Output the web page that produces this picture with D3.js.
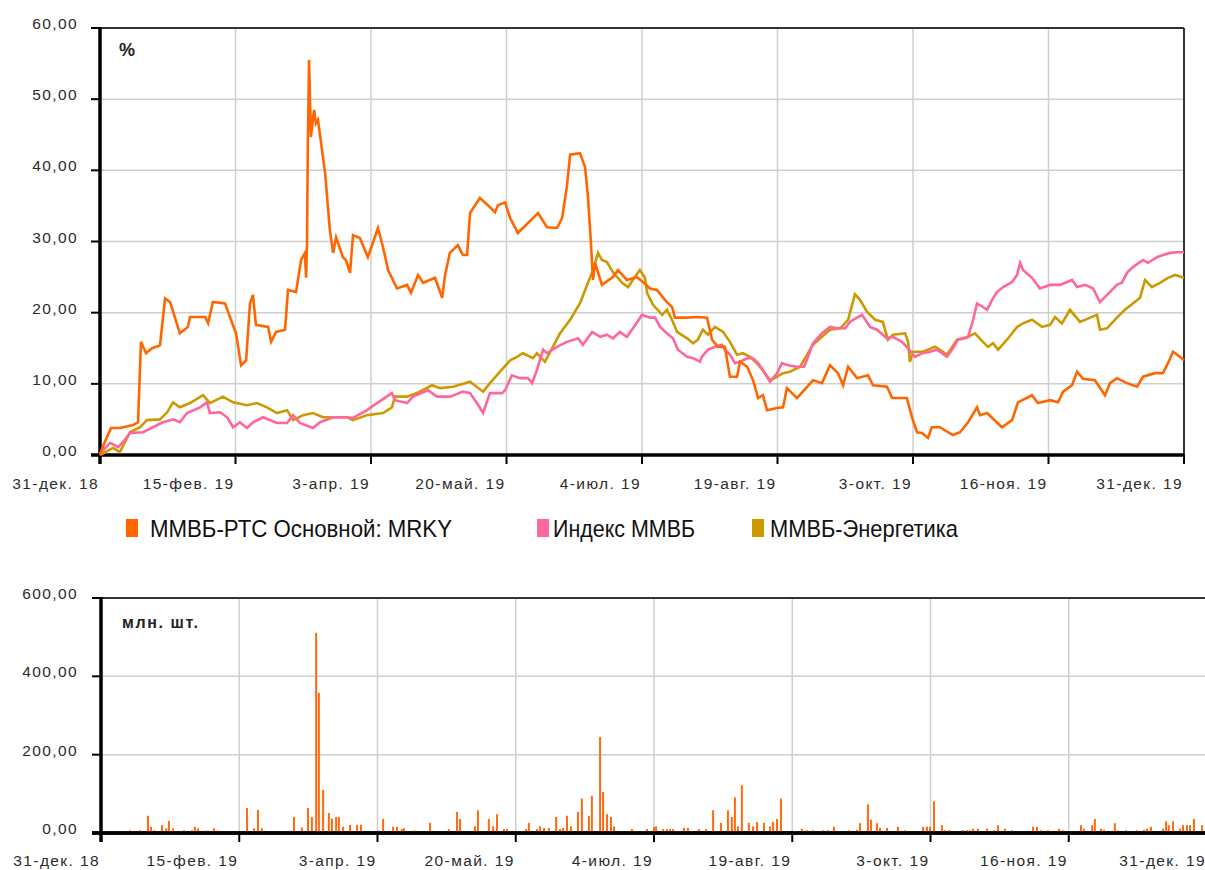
<!DOCTYPE html>
<html>
<head>
<meta charset="utf-8">
<script src="https://cdn.jsdelivr.net/npm/d3@7"></script>
<style>
  body { margin: 0; background: #fff; }
  svg { display: block; }
  text { font-family: "Liberation Sans", Arial, sans-serif; }
</style>
</head>
<body>
<svg id="chart" width="1205" height="870"></svg>
<script>
// Period: 31 Dec 2018 .. 31 Dec 2019, x values are days since 31 Dec 2018
const periodDays = 365;
const xTickLabels = ["31-дек. 18", "15-фев. 19", "3-апр. 19", "20-май. 19", "4-июл. 19",
                     "19-авг. 19", "3-окт. 19", "16-ноя. 19", "31-дек. 19"];
const priceTicks = [0, 10, 20, 30, 40, 50, 60];
const volumeTicks = [0, 200, 400, 600];

const seriesNames = ["ММВБ-РТС Основной: MRKY", "Индекс ММВБ", "ММВБ-Энергетика"];
const seriesColors = ["#ff6600", "#ff6699", "#cc9900"];

// Change since start of period, %
const mrkyDays = [0, 1.3, 3.7, 6.7, 11.1, 12.8, 13.8, 15.5, 17.5, 20.2, 21.9, 23.6, 26.9, 29.6, 30.3, 35.4, 36.4, 38.0,
  42.1, 44.1, 45.8, 47.5, 49.2, 50.5, 51.5, 52.5, 56.6, 57.6, 59.3, 62.3, 63.3, 66.0, 67.7, 69.0, 69.4, 69.7, 70.0,
  70.4, 71.0, 72.1, 72.7, 73.4, 75.8, 77.4, 78.5, 79.5, 81.8, 82.8, 84.2, 85.2, 87.5, 90.2, 93.6, 95.3, 97.0, 100.0,
  103.4, 104.7, 107.1, 108.8, 112.8, 115.2, 116.2, 117.8, 120.5, 122.2, 123.6, 124.6, 127.9, 130.6, 133.0, 134.0,
  136.4, 138.1, 140.7, 147.5, 150.5, 153.9, 155.6, 157.2, 158.3, 161.6, 163.3, 164.3, 165.3, 166.0, 166.7, 169.0,
  172.7, 174.4, 177.4, 180.8, 182.8, 185.2, 187.5, 190.2, 192.6, 193.6, 197.7, 201.3, 204.4, 206.1, 208.1, 210.4,
  212.1, 214.5, 215.5, 217.9, 219.9, 221.6, 223.2, 224.6, 228.0, 230.0, 231.3, 234.7, 237.1, 240.1, 243.1, 245.8,
  248.5, 250.2, 251.9, 254.9, 258.6, 260.3, 265.0, 266.7, 271.7, 273.4, 275.1, 276.8, 278.8, 280.1, 282.8, 287.2,
  289.6, 292.3, 295.3, 296.3, 298.7, 303.7, 307.1, 309.1, 313.8, 315.8, 319.9, 322.6, 324.3, 327.3, 329.0, 331.0,
  335.0, 338.4, 340.1, 342.4, 345.8, 349.2, 351.2, 355.2, 357.9, 359.6, 361.3, 363.6, 365.0];
const mrkyValues = [0.0, 1.5, 3.8, 3.8, 4.2, 4.6, 15.9, 14.3, 15.0, 15.4, 22.0, 21.5, 17.1, 18.0, 19.4, 19.4, 18.5, 21.5,
  21.3, 19.0, 17.1, 12.6, 13.3, 21.3, 22.5, 18.3, 18.0, 15.9, 17.3, 17.6, 23.2, 22.9, 27.4, 28.4, 24.9, 29.8, 44.3,
  55.5, 44.7, 48.5, 46.6, 47.1, 39.6, 31.6, 28.4, 30.6, 27.8, 27.4, 25.6, 30.9, 30.5, 27.8, 31.9, 29.2, 26.0, 23.4,
  23.9, 22.8, 25.3, 24.2, 24.9, 22.1, 25.3, 28.4, 29.5, 28.1, 28.1, 34.0, 36.1, 35.1, 34.1, 35.1,
  35.5, 33.3, 31.2, 34.0, 32.0, 31.9, 33.3, 37.7, 42.2, 42.4, 40.5, 36.3, 29.8, 24.6, 27.0, 23.9,
  25.0, 26.0, 24.6, 25.0, 24.3, 23.4, 23.2, 21.8, 20.8, 19.3, 19.3, 19.4, 19.3, 16.2, 15.2, 15.2,
  11.0, 11.0, 13.1, 12.4, 10.5, 8.0, 8.4, 6.3, 6.6, 6.7, 9.4, 8.0, 9.1, 10.5, 10.1, 12.6,
  11.5, 9.8, 12.4, 10.8, 11.2, 9.8, 9.6, 8.0, 8.0, 5.3, 3.2, 3.1, 2.4, 3.9, 3.9, 2.8,
  3.2, 4.6, 6.7, 5.6, 5.9, 3.9, 4.9, 7.4, 8.4, 7.3, 7.7, 7.4, 8.9, 9.8, 11.7, 10.7,
  10.5, 8.4, 10.1, 10.8, 10.1, 9.6, 11.0, 11.5, 11.5, 12.9, 14.5, 13.8, 13.3];

const indexDays = [0, 3.4, 6.1, 7.7, 10.1, 14.5, 17.8, 21.2, 24.6, 26.9, 29.3, 33.7, 36.0, 37.0, 40.4, 42.8, 44.8, 47.1,
  49.5, 51.5, 54.9, 59.6, 63.0, 65.0, 67.3, 71.7, 74.1, 78.5, 83.2, 85.2, 89.9, 93.3, 98.3, 99.3, 103.4, 105.4, 110.4,
  113.5, 117.9, 122.2, 124.6, 126.9, 129.0, 131.3, 135.4, 136.4, 138.7, 141.4, 144.1, 145.5, 147.1, 149.2, 150.5,
  153.9, 157.2, 161.0, 162.6, 165.7, 168.4, 170.7, 172.7, 175.1, 177.4, 179.5, 182.5, 185.2, 186.9, 188.6, 190.9,
  192.9, 194.6, 197.7, 199.7, 202.0, 202.7, 204.7, 207.1, 209.4, 210.4, 212.1, 213.8, 215.5, 217.9, 219.9, 221.6,
  223.2, 225.6, 228.0, 229.6, 231.7, 234.7, 237.1, 238.4, 240.1, 243.1, 245.8, 248.2, 250.9, 252.5, 254.9, 256.6,
  259.3, 261.6, 265.0, 267.0, 270.0, 272.1, 274.4, 276.8, 279.5, 281.8, 285.2, 287.2, 288.9, 292.3, 294.0, 295.3,
  297.3, 298.7, 300.4, 302.0, 304.1, 307.1, 308.8, 309.8, 310.8, 313.8, 316.5, 319.9, 323.3, 327.3, 329.0, 331.7,
  334.4, 336.7, 339.1, 342.4, 344.1, 345.8, 347.8, 351.2, 352.9, 355.9, 357.9, 360.3, 362.6, 365.0];
const indexValues = [0.2, 1.7, 1.1, 1.8, 3.1, 3.2, 3.9, 4.6, 5.0, 4.6, 5.9, 6.7, 7.4, 5.9, 6.0, 5.3, 3.9, 4.6,
  3.8, 4.6, 5.3, 4.5, 4.5, 5.6, 4.5, 3.8, 4.6, 5.3, 5.3, 5.2, 6.3, 7.3, 8.7, 7.7, 7.3, 8.2, 9.1,
  8.2, 8.2, 8.9, 8.7, 7.3, 5.9, 8.7, 8.7, 9.1, 11.2, 10.8, 10.8, 10.1, 11.9, 14.8, 14.3,
  15.2, 15.9, 16.4, 15.5, 17.3, 16.6, 16.9, 16.4, 17.3, 16.6, 17.8, 19.7, 19.3, 19.3, 18.0, 17.1,
  16.4, 14.8, 13.8, 13.6, 13.1, 13.8, 14.8, 15.2, 15.5, 14.8, 14.1, 12.9, 13.1, 13.6, 13.6, 12.9,
  11.9, 10.3, 11.5, 12.9, 12.6, 12.4, 12.4, 13.8, 15.7, 17.1, 18.0, 17.8, 17.8, 18.7, 19.3, 19.7,
  18.0, 17.6, 16.4, 16.6, 15.9, 15.0, 13.8, 14.3, 14.5, 14.8, 13.8, 15.0, 16.2, 16.6, 19.0, 21.3,
  20.8, 20.4, 21.8, 22.9, 23.6, 24.3, 25.3, 27.0, 26.0, 24.9, 23.4, 23.9, 23.9, 24.6, 23.6, 23.9,
  23.4, 21.5, 22.5, 23.9, 24.2, 25.6, 26.4, 27.4, 27.0, 27.8, 28.1, 28.4, 28.5, 28.5];

const energyDays = [0, 4.4, 6.7, 10.1, 13.5, 15.8, 20.2, 22.6, 24.6, 26.9, 30.3, 34.7, 37.0, 41.4, 44.8, 49.5, 52.9,
  56.2, 59.6, 63.0, 65.0, 68.4, 71.7, 75.1, 78.5, 83.2, 85.2, 89.9, 95.3, 98.3, 99.3, 103.4, 106.7, 111.8, 114.5,
  118.9, 124.6, 129.0, 131.3, 134.7, 138.1, 140.4, 142.4, 145.8, 147.1, 149.8, 152.5, 154.9, 158.3, 161.6, 164.0,
  165.7, 167.7, 169.0, 170.7, 172.7, 175.8, 177.8, 180.1, 181.8, 183.5, 184.2, 186.2, 189.3, 190.9, 192.6, 194.3,
  197.7, 199.7, 201.3, 203.0, 204.7, 207.1, 209.8, 212.1, 214.5, 216.5, 218.9, 221.2, 223.2, 225.6, 228.0, 230.0,
  232.3, 235.7, 238.1, 240.1, 243.1, 245.8, 249.2, 251.9, 254.2, 255.9, 258.3, 261.0, 263.6, 265.3, 267.0, 271.1,
  272.1, 272.7, 273.8, 277.1, 281.2, 285.2, 288.6, 291.3, 294.6, 297.3, 299.0, 300.7, 302.4, 305.4, 308.8, 310.8,
  313.8, 317.2, 319.9, 321.6, 323.9, 326.6, 330.0, 333.4, 335.7, 336.7, 339.1, 342.4, 345.1, 347.8, 350.2, 351.9,
  354.2, 356.9, 359.6, 362.0, 365.0];
const energyValues = [0.0, 1.0, 0.4, 3.2, 3.9, 4.9, 5.0, 6.0, 7.4, 6.7, 7.3, 8.4, 7.3, 8.2, 7.4, 7.0, 7.3,
  6.7, 5.9, 6.3, 4.9, 5.6, 5.9, 5.3, 5.3, 5.3, 4.9, 5.6, 5.9, 6.7, 8.2, 8.2, 8.7, 9.8, 9.4,
  9.6, 10.3, 8.9, 10.1, 11.7, 13.3, 13.8, 14.3, 13.6, 14.3, 13.1, 15.2, 17.1, 19.0, 21.3, 23.9,
  25.6, 28.4, 27.4, 27.1, 25.7, 24.2, 23.6, 25.0, 26.0, 24.9, 22.8, 21.1, 19.7, 20.4, 19.0, 17.3,
  16.4, 15.7, 16.2, 17.6, 16.9, 18.0, 17.3, 15.9, 14.1, 14.3, 13.8, 12.9, 11.9, 10.5, 11.0, 11.5,
  11.7, 12.4, 14.1, 15.5, 16.6, 17.6, 17.8, 19.0, 22.6, 21.8, 20.1, 19.0, 18.7, 16.2, 16.9, 17.1,
  15.9, 13.1, 14.5, 14.5, 15.2, 14.1, 16.2, 16.4, 17.1, 15.9, 15.2, 15.7, 14.8, 16.2, 18.0, 18.5,
  19.0, 18.0, 18.3, 19.4, 18.5, 20.4, 18.7, 19.3, 19.7, 17.6, 17.8, 19.3, 20.4, 21.3, 22.1, 24.6,
  23.6, 24.2, 24.9, 25.3, 24.9];

// Trading volume, mln shares
const volumeDays = [9.6, 12.9, 15.5, 16.5, 17.5, 20.1, 21.5, 22.4, 23.8, 27.4, 30.0, 31.0, 32.0, 34.7, 35.6, 37.3, 38.6,
  48.2, 50.5, 51.8, 53.1, 62.7, 63.7, 66.3, 68.3, 69.6, 71.0, 71.9, 73.3, 75.2, 76.2, 77.6, 78.5, 79.9, 82.2, 84.5,
  85.8, 91.7, 93.1, 96.4, 97.7, 99.3, 100.0, 103.6, 108.6, 114.8, 117.5, 118.5, 122.4, 123.4, 124.4, 125.7, 128.0,
  129.4, 130.7, 131.7, 133.0, 134.0, 136.6, 137.6, 138.9, 140.3, 141.2, 143.9, 144.9, 146.2, 146.9, 147.8, 150.2,
  151.5, 152.5, 153.8, 155.1, 157.4, 158.7, 161.0, 162.0, 164.7, 165.7, 167.0, 168.3, 169.3, 171.6, 173.9, 175.2,
  176.6, 178.9, 180.2, 181.2, 182.5, 183.2, 185.5, 186.8, 187.8, 188.8, 190.1, 192.4, 193.7, 195.0, 197.3, 199.7,
  202.0, 203.3, 204.6, 206.9, 208.2, 209.2, 210.2, 211.5, 213.8, 215.2, 216.5, 217.5, 218.8, 220.8, 221.8, 223.1,
  224.4, 229.0, 231.3, 233.0, 235.0, 238.3, 239.9, 241.9, 246.9, 249.5, 250.5, 253.1, 254.1, 256.1, 257.1, 259.4,
  263.0, 265.3, 271.3, 272.6, 273.6, 274.9, 277.5, 278.5, 279.9, 284.5, 285.8, 286.8, 287.8, 289.4, 292.4, 294.7,
  296.0, 298.3, 300.6, 307.6, 308.9, 310.2, 312.5, 316.2, 317.5, 323.4, 324.4, 327.1, 328.0, 330.0, 331.0, 334.6,
  335.6, 338.3, 341.9, 344.2, 345.2, 346.5, 350.5, 351.5, 352.4, 353.8, 356.1, 357.1, 358.4, 359.4, 360.7, 363.4];
const volumeValues = [7, 7, 44, 16, 7, 20, 12, 31, 12, 7, 7, 16, 12, 6, 6, 12, 6,
  64, 12, 59, 12, 6, 41, 14, 64, 41, 511, 358, 110, 51, 37, 41, 41, 16, 21, 21,
  21, 6, 36, 16, 16, 10, 12, 6, 26, 10, 54, 36, 5, 17, 58, 5, 36,
  17, 48, 5, 10, 10, 5, 5, 5, 10, 26, 10, 17, 13, 5, 13, 41,
  10, 13, 44, 17, 54, 88, 44, 95, 245, 105, 48, 41, 17, 5, 5, 10,
  5, 5, 10, 5, 15, 17, 10, 10, 10, 10, 5, 13, 13, 5, 10, 10,
  58, 5, 26, 58, 41, 91, 17, 122, 26, 17, 28, 5, 26, 17, 28, 36,
  88, 5, 11, 7, 7, 7, 7, 16, 7, 8, 25, 73, 34, 25, 13, 13,
  16, 7, 16, 16, 16, 81, 20, 7, 7, 7, 7, 7, 11, 11, 11, 7,
  20, 11, 7, 16, 16, 7, 7, 11, 7, 20, 11, 20, 36, 11, 8, 25,
  7, 7, 7, 8, 11, 16, 11, 30, 20, 30, 11, 20, 20, 20, 36, 20];

const svg = d3.select("#chart");
const num = d3.formatLocale({ decimal: ",", thousands: " ", grouping: [3], currency: ["", ""] }).format(".2f");
const tickDays = xTickLabels.map((_, i) => i * periodDays / (xTickLabels.length - 1));

const gridColor = "#cfcfcf";
const labelColor = "#2b2b2b";

function frame(g, x, y, yTicks, labelY, opts) {
  const [x0, x1] = x.range();
  const [y0, y1] = y.range();
  // grid
  g.append("g").selectAll("line").data(tickDays.slice(1)).join("line")
    .attr("x1", d => x(d)).attr("x2", d => x(d)).attr("y1", y1).attr("y2", y0)
    .attr("stroke", gridColor).attr("stroke-width", 1.5);
  g.append("g").selectAll("line").data(yTicks.slice(1)).join("line")
    .attr("x1", x0).attr("x2", opts.gridRight).attr("y1", d => y(d)).attr("y2", d => y(d))
    .attr("stroke", gridColor).attr("stroke-width", 1.5);
  // top border and right border
  g.append("line").attr("x1", x0).attr("x2", opts.gridRight).attr("y1", y1).attr("y2", y1)
    .attr("stroke", "#333").attr("stroke-width", 2);
  if (opts.rightBorder) {
    g.append("line").attr("x1", x1).attr("x2", x1).attr("y1", y1).attr("y2", y0)
      .attr("stroke", "#333").attr("stroke-width", 2);
  }
  // y tick marks and labels
  g.append("g").selectAll("line").data(yTicks).join("line")
    .attr("x1", x0 - 9).attr("x2", x0).attr("y1", d => y(d)).attr("y2", d => y(d))
    .attr("stroke", "#000").attr("stroke-width", 2);
  g.append("g").selectAll("text").data(yTicks).join("text")
    .attr("x", 78).attr("y", d => y(d) + 1)
    .attr("text-anchor", "end")
    .attr("font-size", 15.5).attr("letter-spacing", 1.4)
    .attr("fill", labelColor)
    .text(d => num(d));
  // x tick marks and labels
  g.append("g").selectAll("line").data(tickDays).join("line")
    .attr("x1", d => x(d)).attr("x2", d => x(d)).attr("y1", y0).attr("y2", y0 + 9)
    .attr("stroke", "#000").attr("stroke-width", 2);
  g.append("g").selectAll("text").data(tickDays).join("text")
    .attr("x", d => x(d) - 1).attr("y", labelY)
    .attr("text-anchor", "end")
    .attr("font-size", 15.5).attr("letter-spacing", 1.4)
    .attr("fill", labelColor)
    .text((d, i) => xTickLabels[i]);
  // axes
  g.append("line").attr("x1", x0).attr("x2", x0).attr("y1", y1 - 1).attr("y2", y0 + 9)
    .attr("stroke", "#000").attr("stroke-width", 3.5);
  g.append("line").attr("x1", x0 - 9).attr("x2", opts.gridRight).attr("y1", y0).attr("y2", y0)
    .attr("stroke", "#000").attr("stroke-width", 3.5);
}

// ---- upper panel: relative change, %
const xTop = d3.scaleLinear().domain([0, periodDays]).range([100, 1184]);
const yTop = d3.scaleLinear().domain([0, 60]).range([455, 28]);
const upper = svg.append("g");
frame(upper, xTop, yTop, priceTicks, 489, { gridRight: 1184, rightBorder: true });

upper.append("text").attr("x", 119).attr("y", 56)
  .attr("font-size", 18).attr("font-weight", "bold").attr("fill", "#222").text("%");

const series = [
  { days: energyDays, values: energyValues, color: seriesColors[2] },
  { days: indexDays, values: indexValues, color: seriesColors[1] },
  { days: mrkyDays, values: mrkyValues, color: seriesColors[0] }
];
const line = d3.line().x(d => xTop(d[0])).y(d => yTop(d[1]));
upper.append("g").selectAll("path").data(series).join("path")
  .attr("d", s => line(s.days.map((d, i) => [d, s.values[i]])))
  .attr("fill", "none")
  .attr("stroke", s => s.color)
  .attr("stroke-width", 2.6)
  .attr("stroke-linejoin", "miter");

// ---- legend
const legendX = [126, 537, 752];
const legendTextX = [150, 553, 770];
const legendTextW = [302, 142, 188];
const legend = svg.append("g").selectAll("g").data(seriesNames).join("g");
legend.append("rect").attr("x", (d, i) => legendX[i]).attr("y", 519).attr("width", 12).attr("height", 18)
  .attr("fill", (d, i) => seriesColors[i]);
legend.append("text").attr("x", (d, i) => legendTextX[i]).attr("y", 537)
  .attr("font-family", "'Liberation Sans Narrow', 'Liberation Sans', Arial, sans-serif")
  .attr("font-size", 24).attr("fill", "#111")
  .attr("textLength", (d, i) => legendTextW[i]).attr("lengthAdjust", "spacingAndGlyphs")
  .text(d => d);

// ---- lower panel: volume, mln shares
const xBot = d3.scaleLinear().domain([0, periodDays]).range([101, 1207]);
const yBot = d3.scaleLinear().domain([0, 600]).range([833, 598]);
const lower = svg.append("g");
frame(lower, xBot, yBot, volumeTicks, 866, { gridRight: 1205, rightBorder: false });

lower.append("text").attr("x", 122).attr("y", 628)
  .attr("font-size", 16).attr("font-weight", "bold").attr("letter-spacing", 1.6)
  .attr("fill", "#222").text("млн. шт.");

lower.append("g").selectAll("rect").data(volumeDays).join("rect")
  .attr("x", d => xBot(d) - 1)
  .attr("width", 2)
  .attr("y", (d, i) => yBot(volumeValues[i]))
  .attr("height", (d, i) => yBot(0) - yBot(volumeValues[i]))
  .attr("fill", "#ff6a10");
// baseline drawn again over the bars
lower.append("line").attr("x1", 92).attr("x2", 1205).attr("y1", 833).attr("y2", 833)
  .attr("stroke", "#000").attr("stroke-width", 3.5);
</script>
</body>
</html>
